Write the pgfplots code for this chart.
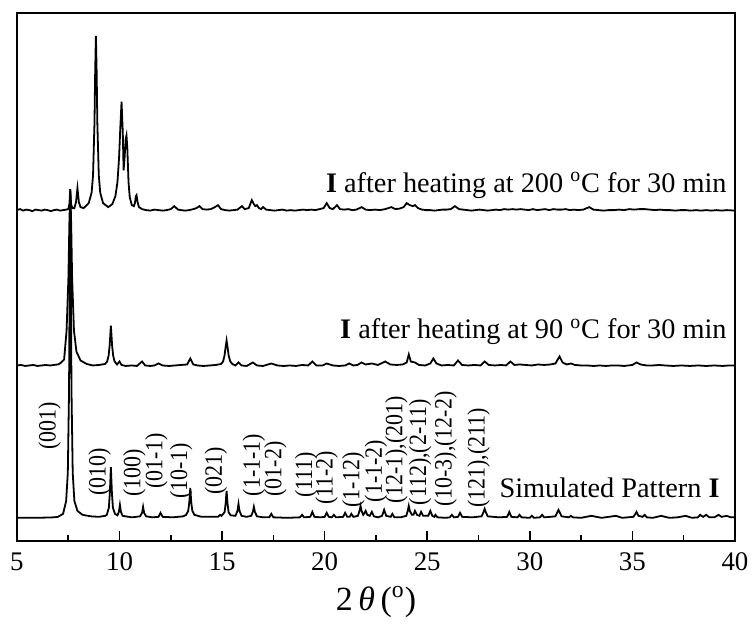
\documentclass[border=0pt]{standalone}
\usepackage{fontspec}
\setmainfont{Liberation Serif}
\usepackage{pgfplots}
\pgfplotsset{compat=1.18}
\newcommand{\hkl}[1]{\scalebox{0.88}[1]{#1}}
\begin{document}
\begin{tikzpicture}
\begin{axis}[
  scale only axis, width=360.5bp, height=265bp,
  xmin=5, xmax=40, ymin=0, ymax=530,
  xtick={5,10,...,40}, minor x tick num=1,
  ytick=\empty,
  xtick pos=bottom,
  tick align=inside,
  major tick length=5bp, minor tick length=3bp,
  every tick/.style={black, line width=0.8bp},
  axis line style={line width=1bp},
  /pgf/number format/assume math mode=true,
  xticklabel style={font=\fontsize{13.5bp}{16bp}\selectfont, yshift=-2.5bp},
  xlabel={2\,\textit{θ}\,(\textsuperscript{o})},
  xlabel style={font=\fontsize{17bp}{20bp}\selectfont, yshift=-1bp},
  clip=false,
]
% Simulated pattern I
\addplot[black, line width=0.9bp] coordinates {
(5.0,23) (6.0,23) (6.8,23.5) (7.0,24) (7.25,27) (7.4,40) (7.48,68) (7.54,150) (7.57,260) (7.6,348) (7.63,260) (7.66,150) (7.72,68) (7.8,40) (7.95,30) (8.2,26) (8.6,24.5) (9.0,24) (9.3,25)
(9.38,26) (9.48,33) (9.53,48) (9.58,74) (9.63,48) (9.68,33) (9.78,27)
(9.9,25.5) (9.97,29) (10.02,36) (10.07,29) (10.15,25) (10.6,23.5)
(11.0,24.5) (11.1,28) (11.15,34) (11.2,28) (11.3,24.5) (11.6,23.5)
(11.9,24) (12.0,28) (12.1,24) (12.6,23.5) (13.1,24.5)
(13.25,26) (13.35,30) (13.4,38) (13.45,53) (13.5,38) (13.55,30) (13.65,26)
(14.0,24) (14.6,24) (14.8,24) (14.9,26) (14.97,25) (15.12,28.5) (15.17,36.5) (15.22,50) (15.27,36.5) (15.32,28.5) (15.42,25.5)
(15.65,25) (15.75,30) (15.8,37) (15.85,30) (15.95,25) (16.2,24)
(16.42,25) (16.5,29) (16.55,34) (16.6,29) (16.7,24.5) (17.0,23.5)
(17.3,23.5) (17.4,27) (17.5,23.5) (18.2,23) (18.8,23.5) (18.9,26) (19.0,23.5)
(19.3,24) (19.4,29) (19.5,24) (19.8,23.5) (20.0,24) (20.1,28) (20.2,24)
(20.35,23.5) (20.45,26) (20.55,23.5) (20.9,24) (21.0,28) (21.1,24)
(21.22,24) (21.3,27) (21.4,24) (21.62,25) (21.7,30) (21.75,35) (21.8,30) (21.88,26)
(21.95,28) (22.0,30) (22.08,26) (22.2,25) (22.3,29) (22.4,24.5) (22.6,23.5)
(22.8,25) (22.9,31) (23.0,25) (23.22,24) (23.3,27) (23.4,23.5) (23.7,23.5)
(23.98,25) (24.05,30) (24.1,35) (24.15,30) (24.25,26) (24.33,26) (24.4,30) (24.5,26)
(24.62,25) (24.7,29) (24.8,25) (25.05,25) (25.15,30) (25.25,25) (25.35,24) (25.4,26) (25.5,23.5)
(25.9,23) (26.1,23.5) (26.2,26) (26.3,23.5) (26.5,24) (26.6,28) (26.7,24) (27.2,23.5)
(27.65,24.5) (27.75,29) (27.8,32) (27.85,29) (27.95,24.5) (28.5,23.5)
(28.9,24) (29.0,29) (29.1,24) (29.4,23.5) (29.5,26) (29.6,23.5)
(30.0,23) (30.1,25) (30.2,23) (30.5,23.5) (30.6,26) (30.7,23.5) (31.0,24)
(31.25,24.5) (31.35,29) (31.4,31) (31.45,29) (31.55,24.5) (31.9,23.5) (32.0,25) (32.1,23.5)
(32.5,23) (33.0,25) (33.5,23) (34.2,25) (34.5,23) (35.05,24) (35.15,27) (35.2,29) (35.3,25)
(35.5,24) (35.6,26) (35.7,23.5) (36.0,23) (36.4,25) (36.8,23) (37.2,23.5) (37.6,25) (37.9,23)
(38.2,23.5) (38.3,26) (38.45,24) (38.6,26) (38.75,23.5) (39.0,23.5) (39.2,26) (39.35,24) (39.6,25) (39.8,23.5) (40.0,23.5)
};
% I after heating at 90 C
\addplot[black, line width=0.9bp] coordinates {
(5.0,176) (5.2,176.5) (5.4,175.5) (5.6,176) (5.8,176.5) (6.0,175.5) (6.2,176) (6.4,176.5) (6.6,176) (6.8,176.5) (7.0,177) (7.1,178)
(7.3,182) (7.42,211) (7.51,264) (7.555,318) (7.6,353) (7.645,318) (7.69,264) (7.78,211) (7.9,190) (8.1,181) (8.4,177.5) (8.7,176) (9.0,176.5)
(9.3,177.5) (9.4,180) (9.47,186) (9.52,196) (9.58,216) (9.64,196) (9.69,186) (9.76,180) (9.88,177) (10.0,180) (10.1,176.5)
(10.3,175.5) (10.6,176) (10.85,175.5) (11.1,180) (11.25,176) (11.5,175.5) (11.7,176) (11.9,178) (12.1,176) (12.4,175.5) (12.7,176) (13.0,176.5)
(13.3,177) (13.4,181) (13.45,183) (13.5,181) (13.6,177) (13.8,176) (14.1,175.5) (14.4,176) (14.7,176.5)
(14.95,177.5) (15.05,180) (15.12,186) (15.17,194) (15.22,201) (15.27,194) (15.32,186) (15.4,180) (15.5,177.5)
(15.65,176) (15.8,179) (15.95,176) (16.2,175.5) (16.5,179) (16.7,176) (17.0,175.5) (17.4,178) (17.7,176) (18.0,175.5)
(18.3,176) (18.6,175.5) (18.9,176.5) (19.2,176) (19.4,180) (19.6,176) (19.9,176) (20.1,178) (20.4,176) (20.7,175.5)
(21.0,176) (21.2,178) (21.4,176) (21.6,176.5) (21.8,179) (22.0,177) (22.3,178) (22.6,176.5) (22.95,180) (23.2,177)
(23.5,176.5) (23.8,177) (24.0,179) (24.1,187) (24.2,180) (24.4,179) (24.6,176.5) (24.9,176) (25.15,178) (25.3,183) (25.45,178)
(25.7,176) (26.0,176.5) (26.3,176) (26.5,181) (26.7,176.5) (27.0,176) (27.3,176.5) (27.6,176) (27.8,180) (28.0,176.5)
(28.3,176) (28.6,176.5) (28.85,176) (29.05,180) (29.25,176.5) (29.5,177) (29.8,176.5) (30.1,176) (30.4,177) (30.7,176.5)
(31.0,177) (31.25,178) (31.45,185) (31.6,179) (31.8,177) (32.0,178) (32.2,176.5) (32.5,176) (32.8,176) (33.1,175.5)
(33.4,176) (33.7,175.5) (34.0,176) (34.3,176) (34.6,175.5) (35.0,176.5) (35.2,179) (35.4,177) (35.7,176) (36.0,176)
(36.3,176.5) (36.6,176) (37.0,175.5) (37.4,176) (37.8,175.5) (38.2,176) (38.6,175.5) (39.0,176) (39.4,175.5) (39.7,176) (40.0,176)
};
% I after heating at 200 C
\addplot[black, line width=0.9bp] coordinates {
(5.0,332) (5.15,333) (5.3,331.5) (5.45,332.5) (5.6,332) (5.75,331) (5.9,332.5) (6.05,332) (6.2,331.5) (6.35,332.5) (6.5,332) (6.65,331)
(6.8,332) (6.95,332.5) (7.1,331.5) (7.25,332) (7.4,332.5) (7.5,333) (7.56,338) (7.6,353) (7.64,338) (7.7,334)
(7.8,334) (7.88,340) (7.95,354) (8.02,340) (8.1,335) (8.25,334) (8.5,339) (8.64,349.5) (8.71,367) (8.78,419.5) (8.815,472) (8.85,507)
(8.885,472) (8.92,419.5) (8.99,367) (9.06,349.5) (9.2,339) (9.45,335) (9.65,338) (9.8,346) (9.9,360) (9.98,385) (10.04,415) (10.1,441)
(10.16,410) (10.2,372) (10.25,385) (10.3,403) (10.34,407) (10.38,395) (10.44,360) (10.5,345) (10.6,337) (10.7,336)
(10.75,339) (10.8,346) (10.83,347) (10.88,340) (10.95,335) (11.1,333) (11.3,332) (11.5,331.5) (11.7,332.5) (11.9,332)
(12.1,331.5) (12.3,332) (12.5,333) (12.67,336) (12.85,332.5) (13.0,332) (13.2,331.5) (13.4,332) (13.6,333) (13.75,334)
(13.9,336) (14.05,333) (14.25,332.5) (14.45,333) (14.65,335) (14.8,337) (14.95,333) (15.15,332) (15.35,331.5) (15.55,332)
(15.75,332.5) (15.97,336) (16.1,333) (16.3,334) (16.45,342) (16.55,338) (16.62,336) (16.7,337) (16.8,334) (16.9,333) (17.0,335)
(17.15,332.5) (17.35,332) (17.55,331.5) (17.75,332) (17.95,332.5) (18.15,331.5) (18.35,332) (18.55,331.5) (18.75,332) (18.95,332.5)
(19.15,332) (19.35,332.5) (19.55,332) (19.75,333) (19.95,334) (20.1,339) (20.25,334) (20.4,333) (20.6,337) (20.75,333)
(20.95,332.5) (21.15,333) (21.35,332) (21.55,332.5) (21.8,335) (22.0,332.5) (22.2,332) (22.45,332.5) (22.7,332) (22.95,333)
(23.25,335) (23.45,333) (23.65,333.5) (23.85,335) (24.0,339) (24.15,337) (24.3,336) (24.4,337) (24.55,334) (24.75,332.5)
(24.95,332) (25.15,332) (25.35,331.5) (25.55,332) (25.75,332.5) (25.95,332.5) (26.15,333) (26.35,336) (26.55,333) (26.75,332.5)
(26.95,332) (27.15,331.5) (27.35,332) (27.55,332.5) (27.75,332) (27.95,331.5) (28.15,332) (28.35,332.5) (28.55,332) (28.75,333)
(28.95,332.5) (29.15,333) (29.35,332.5) (29.55,333) (29.75,332.5) (29.95,332) (30.15,333) (30.35,332) (30.55,332.5) (30.75,333)
(30.95,332) (31.15,333) (31.35,332.5) (31.55,332.5) (31.75,333) (31.95,332) (32.15,332.5) (32.35,332) (32.6,332.5) (32.9,335)
(33.1,332.5) (33.35,332) (33.6,331.5) (33.85,332) (34.1,332) (34.35,332.5) (34.6,332) (34.85,333) (35.1,332.5) (35.35,333)
(35.6,333) (35.85,332.5) (36.1,332) (36.35,332.5) (36.6,332) (36.85,332) (37.1,331.5) (37.35,332) (37.6,332) (37.85,331.5)
(38.1,332) (38.35,331.5) (38.6,332) (38.85,331.5) (39.1,332) (39.35,331.5) (39.6,332) (40.0,331.5)
};
% curve labels
\node[anchor=base east, inner sep=0pt, font=\fontsize{14.2bp}{17bp}\selectfont] at (axis cs:39.61,350) {\textbf{I} after heating at 200 \textsuperscript{o}C for 30 min};
\node[anchor=base east, inner sep=0pt, font=\fontsize{14.2bp}{17bp}\selectfont] at (axis cs:39.61,203) {\textbf{I} after heating at 90 \textsuperscript{o}C for 30 min};
\node[anchor=base east, inner sep=0pt, font=\fontsize{14.2bp}{17bp}\selectfont] at (axis cs:39.27,43) {Simulated Pattern \textbf{I}};
% hkl labels
\begin{scope}[every node/.style={rotate=90, inner sep=0pt, font=\fontsize{12.5bp}{15bp}\selectfont}]
\node at (axis cs:6.6,115) {\hkl{(001)}};
\node at (axis cs:9.03,69) {\hkl{(010)}};
\node at (axis cs:10.73,68) {\hkl{(100)}};
\node at (axis cs:11.8,80) {\hkl{(01-1)}};
\node at (axis cs:13.0,70) {\hkl{(10-1)}};
\node at (axis cs:14.7,70) {\hkl{(021)}};
\node at (axis cs:16.55,76) {\hkl{(1-1-1)}};
\node at (axis cs:17.6,72) {\hkl{(01-2)}};
\node at (axis cs:19.1,66) {\hkl{(111)}};
\node at (axis cs:20.1,63) {\hkl{(11-2)}};
\node at (axis cs:21.4,61) {\hkl{(1-12)}};
\node at (axis cs:22.5,70) {\hkl{(1-1-2)}};
\node at (axis cs:23.5,91) {\hkl{(12-1),(201)}};
\node at (axis cs:24.66,89) {\hkl{(112),(2-11)}};
\node at (axis cs:25.9,92) {\hkl{(10-3),(12-2)}};
\node at (axis cs:27.5,83) {\hkl{(121),(211)}};
\end{scope}
\end{axis}
\path ([xshift=-8.5bp,yshift=-46bp]current axis.south west) rectangle ([xshift=8.5bp,yshift=6.5bp]current axis.north east);
\end{tikzpicture}
\end{document}
